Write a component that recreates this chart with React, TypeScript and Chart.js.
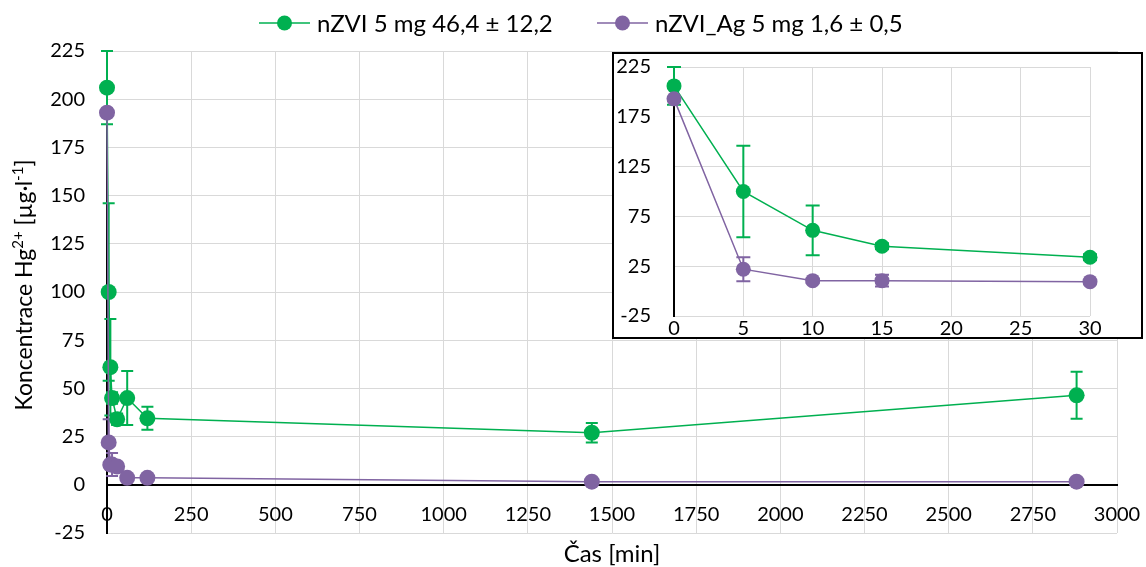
import React, { useEffect, useRef } from "react";
import { Chart, registerables } from "chart.js";

Chart.register(...registerables);

const FONT = "Lato, 'Open Sans', sans-serif";
const GREEN = "#00B050";
const PURPLE = "#8064A2";
const GRID = "#d9d9d9";
const TEXT = "#000000";

// sampling times [min]
const times = [0, 5, 10, 15, 30, 60, 120, 1440, 2880];

// Hg2+ concentration [µg/l] and standard deviations
const nzviValues = [206, 100, 61, 45, 34, 45, 34.5, 27, 46.4];
const nzviErrors = [19, 46, 25, 3, 3, 14, 6, 5, 12.2];
const nzviAgValues = [193, 22, 10.5, 10.5, 9.5, 3.6, 3.6, 1.6, 1.6];
const nzviAgErrors = [2, 12, 2, 6, 1, 1, 1, 0.5, 0.5];

const seriesLabels = ["nZVI 5 mg 46,4 ± 12,2", "nZVI_Ag 5 mg 1,6 ± 0,5"];
const seriesColors = [GREEN, PURPLE];

// the inset shows only the first 30 minutes
const insetMaxTime = 30;

const yTitleParts = [
  { t: "Koncentrace Hg", sup: false },
  { t: "2+", sup: true },
  { t: " [µg·l", sup: false },
  { t: "-1", sup: true },
  { t: "]", sup: false },
];
const xTitle = "Čas [min]";

function buildDatasets(limit: number, radius: number) {
  const idx = times.map((_, i) => i).filter((i) => times[i] <= limit);
  const make = (vals: number[], errs: number[], k: number) => ({
    label: seriesLabels[k],
    data: idx.map((i) => ({ x: times[i], y: vals[i] })),
    errors: idx.map((i) => errs[i]),
    showLine: true,
    borderColor: seriesColors[k],
    backgroundColor: seriesColors[k],
    borderWidth: 1.5,
    pointRadius: radius,
    pointBorderWidth: 0,
    pointBackgroundColor: seriesColors[k],
    pointBorderColor: seriesColors[k],
    clip: false as const,
    order: k === 0 ? 1 : 0,
  });
  return [make(nzviValues, nzviErrors, 0), make(nzviAgValues, nzviAgErrors, 1)];
}

// vertical error bars with caps, drawn beneath the lines and markers
const errorBarPlugin = {
  id: "errorBars",
  beforeDatasetsDraw(chart: any, _args: any, opts: any) {
    const ctx = chart.ctx;
    const xs = chart.scales.x;
    const ys = chart.scales.y;
    const cap = (opts && opts.cap) || 6;
    ctx.save();
    chart.data.datasets.forEach((ds: any) => {
      ctx.strokeStyle = ds.borderColor;
      ctx.lineWidth = 2;
      ds.data.forEach((p: any, i: number) => {
        const e = ds.errors[i];
        if (!e) return;
        const x = xs.getPixelForValue(p.x);
        const yt = ys.getPixelForValue(p.y + e);
        const yb = ys.getPixelForValue(p.y - e);
        ctx.beginPath();
        ctx.moveTo(x, yt);
        ctx.lineTo(x, yb);
        ctx.moveTo(x - cap, yt);
        ctx.lineTo(x + cap, yt);
        ctx.moveTo(x - cap, yb);
        ctx.lineTo(x + cap, yb);
        ctx.stroke();
      });
    });
    ctx.restore();
  },
};

// legend row: line with a round marker, then the series name
const legendPlugin = {
  id: "seriesLegend",
  afterDraw(chart: any) {
    const ctx = chart.ctx;
    ctx.save();
    ctx.font = `24px ${FONT}`;
    ctx.textBaseline = "middle";
    const lineLen = 51;
    const textGap = 7;
    const starts = [259, 597];
    const y = 23;
    seriesLabels.forEach((label, k) => {
      const x = starts[k];
      ctx.strokeStyle = seriesColors[k];
      ctx.lineWidth = 1.5;
      ctx.beginPath();
      ctx.moveTo(x, y);
      ctx.lineTo(x + lineLen, y);
      ctx.stroke();
      ctx.fillStyle = seriesColors[k];
      ctx.beginPath();
      ctx.arc(x + lineLen / 2, y, 7.5, 0, Math.PI * 2);
      ctx.fill();
      ctx.fillStyle = TEXT;
      ctx.textAlign = "left";
      ctx.fillText(label, x + lineLen + textGap, y + 1);
    });
    ctx.restore();
  },
};

const titlesPlugin = {
  id: "axisTitles",
  afterDraw(chart: any) {
    const ctx = chart.ctx;
    ctx.save();
    ctx.fillStyle = TEXT;
    ctx.textBaseline = "alphabetic";
    // x title
    ctx.font = `24px ${FONT}`;
    ctx.textAlign = "center";
    ctx.fillText(xTitle, 612, 562);
    // y title, rotated, with superscripts
    const base = `23px ${FONT}`;
    const sup = `15px ${FONT}`;
    let w = 0;
    yTitleParts.forEach((p) => {
      ctx.font = p.sup ? sup : base;
      w += ctx.measureText(p.t).width;
    });
    ctx.translate(32, 285);
    ctx.rotate(-Math.PI / 2);
    ctx.textAlign = "left";
    let x = -w / 2;
    yTitleParts.forEach((p) => {
      ctx.font = p.sup ? sup : base;
      ctx.fillText(p.t, x, p.sup ? -9 : 0);
      x += ctx.measureText(p.t).width;
    });
    ctx.restore();
  },
};

const zeroColor = (c: any) => (c.tick && c.tick.value === 0 ? "#000000" : GRID);
const zeroWidth = (c: any) => (c.tick && c.tick.value === 0 ? 2 : 1);

// the layout padding alone sets the plot area
const noScalePadding = (s: any) => {
  s.paddingTop = 0;
  s.paddingBottom = 0;
  s.paddingLeft = 0;
  s.paddingRight = 0;
};

const plainNumber = (v: any) => String(v);

export default function App() {
  const mainRef = useRef<HTMLCanvasElement | null>(null);
  const insetRef = useRef<HTMLCanvasElement | null>(null);

  useEffect(() => {
    if (!mainRef.current || !insetRef.current) return;

    const main = new Chart(mainRef.current, {
      type: "scatter",
      data: { datasets: buildDatasets(Infinity, 8) as any },
      options: {
        responsive: false,
        animation: false,
        layout: { padding: { left: 0, top: 51, right: 29, bottom: 34 } },
        plugins: {
          legend: { display: false },
          tooltip: { enabled: false },
          errorBars: { cap: 6 },
        } as any,
        scales: {
          x: {
            type: "linear",
            position: { y: 0 } as any,
            min: 0,
            max: 3000,
            ticks: {
              stepSize: 250,
              padding: 18,
              color: TEXT,
              font: { family: FONT, size: 20 },
              maxRotation: 0,
              autoSkip: false,
              callback: plainNumber,
            },
            grid: { color: zeroColor, lineWidth: zeroWidth, drawTicks: false },
            border: { display: true, color: "#000000", width: 2 },
            afterFit: noScalePadding,
          },
          y: {
            type: "linear",
            min: -25,
            max: 225,
            ticks: {
              stepSize: 25,
              padding: 22,
              color: TEXT,
              font: { family: FONT, size: 20 },
              callback: plainNumber,
            },
            grid: { color: zeroColor, lineWidth: zeroWidth, drawTicks: false },
            border: { display: true, color: "#000000", width: 2 },
            afterFit: (s: any) => {
              noScalePadding(s);
              s.width = 107;
            },
          },
        },
      },
      plugins: [errorBarPlugin, legendPlugin, titlesPlugin],
    });

    const inset = new Chart(insetRef.current, {
      type: "scatter",
      data: { datasets: buildDatasets(insetMaxTime, 7.5) as any },
      options: {
        responsive: false,
        animation: false,
        layout: { padding: { left: 0, top: 13, right: 51, bottom: 0 } },
        plugins: {
          legend: { display: false },
          tooltip: { enabled: false },
          errorBars: { cap: 7 },
        } as any,
        scales: {
          x: {
            type: "linear",
            min: 0,
            max: insetMaxTime,
            ticks: {
              stepSize: 5,
              padding: 1,
              color: TEXT,
              font: { family: FONT, size: 20 },
              maxRotation: 0,
              autoSkip: false,
              callback: plainNumber,
            },
            grid: { color: zeroColor, lineWidth: zeroWidth, drawTicks: false },
            border: { display: false },
            afterFit: (s: any) => {
              noScalePadding(s);
              s.height = 21;
            },
          },
          y: {
            type: "linear",
            min: -25,
            max: 225,
            ticks: {
              stepSize: 50,
              padding: 23,
              color: TEXT,
              font: { family: FONT, size: 20 },
              callback: plainNumber,
            },
            grid: { color: zeroColor, lineWidth: zeroWidth, drawTicks: false },
            border: { display: true, color: "#000000", width: 2 },
            afterFit: (s: any) => {
              noScalePadding(s);
              s.width = 60;
            },
          },
        },
      },
      plugins: [errorBarPlugin],
    });

    return () => {
      main.destroy();
      inset.destroy();
    };
  }, []);

  return (
    <div
      style={{
        position: "fixed",
        left: 0,
        top: 0,
        width: 1146,
        height: 567,
        background: "#ffffff",
        overflow: "hidden",
      }}
    >
      <canvas ref={mainRef} width={1146} height={567} style={{ display: "block" }} />
      <div
        style={{
          position: "absolute",
          left: 612,
          top: 52,
          width: 531,
          height: 287,
          boxSizing: "border-box",
          border: "2px solid #000000",
          background: "#ffffff",
        }}
      >
        <canvas ref={insetRef} width={527} height={283} style={{ display: "block" }} />
      </div>
    </div>
  );
}
